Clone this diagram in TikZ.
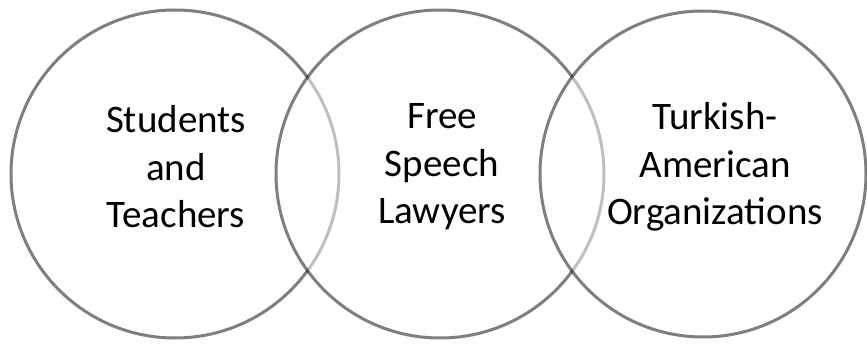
\documentclass[tikz,border=0pt]{standalone}
\usepackage{fontspec}
\setmainfont{Carlito}
\begin{document}
\begin{tikzpicture}[x=1pt,y=1pt,
  venn/.style={circle, minimum size=328pt, inner sep=0pt, draw=black, draw opacity=0.5, fill=white, fill opacity=0.5, line width=3pt},
  label/.style={align=center, font=\fontsize{39}{47.5}\selectfont, text=black, inner sep=0pt}]
\useasboundingbox (0,0) rectangle (867,343);
\node[venn] (c1) at (175,169) {};
\node[venn] (c2) at (440,169) {};
\node[venn, minimum size=326pt] (c3) at (703,169) {};
\node[label] (t1) at (176,176) {Students\\and\\Teachers};
\node[label] (t2) at (442,176) {Free\\Speech\\Lawyers};
\node[label] (t3) at (715,176) {Turkish-\\American\\Organizations};
\end{tikzpicture}
\end{document}
